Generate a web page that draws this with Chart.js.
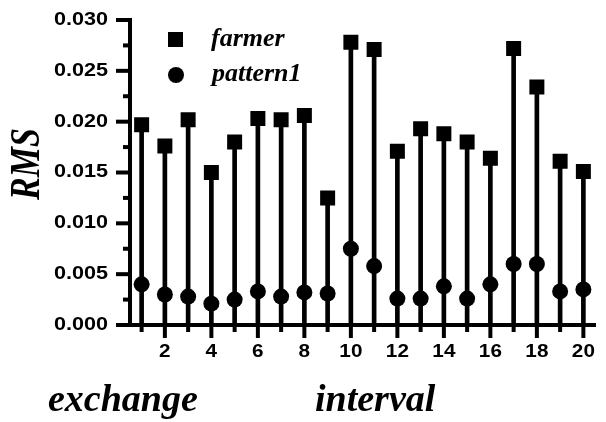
<!DOCTYPE html>
<html>
<head>
<meta charset="utf-8">
<script src="https://cdn.jsdelivr.net/npm/chart.js@4.4.1/dist/chart.umd.min.js"></script>
<style>
  body { margin: 0; background: #fff; }
  canvas { display: block; }
</style>
</head>
<body>
<canvas id="myChart" width="606" height="422"></canvas>
<script>
let intervals = ["1","2","3","4","5","6","7","8","9","10","11","12","13","14","15","16","17","18","19","20"]
let farmer = [0.0197,0.0176,0.0202,0.0150,0.0180,0.0203,0.0202,0.0206,0.0125,0.0278,
              0.0271,0.0171,0.0193,0.0188,0.0180,0.0164,0.0272,0.0234,0.0161,0.0151]
let pattern1 = [0.0040,0.0030,0.0028,0.0021,0.0025,0.0033,0.0028,0.0032,0.0031,0.0075,
                0.0058,0.0026,0.0026,0.0038,0.0026,0.0040,0.0060,0.0060,0.0033,0.0035]
let yTicks = [0,0.005,0.010,0.015,0.020,0.025,0.030]
let seriesNames = ["farmer","pattern1"]

// text stretched sideways like the scanned figure
function wideText(ctx, txt, x, y, sx, align) {
  ctx.save()
  ctx.translate(x, y)
  ctx.scale(sx, 1)
  ctx.textAlign = align
  ctx.fillText(txt, 0, 0)
  ctx.restore()
}

const decor = {
  id: 'decor',
  afterDraw(chart) {
    const ctx = chart.ctx
    const xs = chart.scales.x
    const ys = chart.scales.y
    const area = chart.chartArea
    ctx.save()
    ctx.strokeStyle = '#000'
    ctx.fillStyle = '#000'
    ctx.lineWidth = 4

    // y ticks, major + minor, pointing out
    for (let i = 0; i < yTicks.length; i++) {
      let py = ys.getPixelForValue(yTicks[i])
      ctx.beginPath(); ctx.moveTo(area.left - 14, py); ctx.lineTo(area.left, py); ctx.stroke()
      if (i < yTicks.length - 1) {
        let pm = ys.getPixelForValue((yTicks[i] + yTicks[i + 1]) / 2)
        ctx.beginPath(); ctx.moveTo(area.left - 7, pm); ctx.lineTo(area.left, pm); ctx.stroke()
      }
    }
    // x ticks, long at even labels
    for (let i = 0; i < intervals.length; i++) {
      let px = xs.getPixelForValue(i)
      let len = (Number(intervals[i]) % 2 == 0) ? 13 : 7
      ctx.beginPath(); ctx.moveTo(px, area.bottom); ctx.lineTo(px, area.bottom + len); ctx.stroke()
    }

    // tick labels
    ctx.font = 'bold 18px "Liberation Sans", Arial, sans-serif'
    ctx.textBaseline = 'middle'
    for (let i = 0; i < yTicks.length; i++) {
      wideText(ctx, yTicks[i].toFixed(3), area.left - 22, ys.getPixelForValue(yTicks[i]), 1.2, 'right')
    }
    for (let i = 0; i < intervals.length; i++) {
      if (Number(intervals[i]) % 2 == 0) {
        wideText(ctx, intervals[i], xs.getPixelForValue(i), area.bottom + 27, 1.15, 'center')
      }
    }

    // axis titles
    ctx.font = 'italic bold 34px "Liberation Serif", "Times New Roman", serif'
    ctx.save()
    ctx.translate(28, 164)
    ctx.rotate(-Math.PI / 2)
    ctx.scale(1, 1.25)
    ctx.textAlign = 'center'
    ctx.fillText('RMS', 0, 0)
    ctx.restore()

    ctx.font = 'italic bold 38px "Liberation Serif", "Times New Roman", serif'
    ctx.textBaseline = 'alphabetic'
    wideText(ctx, 'exchange', 48, 411, 1, 'left')
    wideText(ctx, 'interval', 315, 411, 1, 'left')

    // legend
    ctx.fillRect(168, 32, 15, 15)
    ctx.beginPath(); ctx.arc(176, 75, 8, 0, Math.PI * 2); ctx.fill()
    ctx.font = 'italic bold 26px "Liberation Serif", "Times New Roman", serif'
    wideText(ctx, seriesNames[0], 211, 46, 1, 'left')
    wideText(ctx, seriesNames[1], 212, 81, 1, 'left')
    ctx.restore()
  }
}

let ctx = document.getElementById('myChart')
new Chart(ctx, {
  type: 'bar',
  data: {
    labels: intervals,
    datasets: [
      {
        label: 'stem',
        data: farmer,
        backgroundColor: '#000',
        barThickness: 4,
        order: 3
      },
      {
        type: 'line',
        label: seriesNames[0],
        data: farmer,
        showLine: false,
        pointStyle: 'rect',
        pointRadius: 10.6,
        pointBackgroundColor: '#000',
        pointBorderWidth: 0,
        order: 1
      },
      {
        type: 'line',
        label: seriesNames[1],
        data: pattern1,
        showLine: false,
        pointStyle: 'circle',
        pointRadius: 8,
        pointBackgroundColor: '#000',
        pointBorderWidth: 0,
        order: 2
      }
    ]
  },
  options: {
    responsive: false,
    animation: false,
    layout: { padding: { top: 20, right: 11, left: 0, bottom: 0 } },
    plugins: { legend: { display: false }, tooltip: { enabled: false } },
    scales: {
      x: {
        offset: true,
        grid: { display: false, drawTicks: false },
        border: { display: true, color: '#000', width: 4 },
        ticks: { display: false },
        afterFit: (s) => { s.height = 97 }
      },
      y: {
        min: 0,
        max: 0.03,
        ticks: { display: false, stepSize: 0.005 },
        grid: { display: false, drawTicks: false },
        border: { display: true, color: '#000', width: 4 },
        afterFit: (s) => { s.width = 130 }
      }
    }
  },
  plugins: [decor]
})
</script>
</body>
</html>
